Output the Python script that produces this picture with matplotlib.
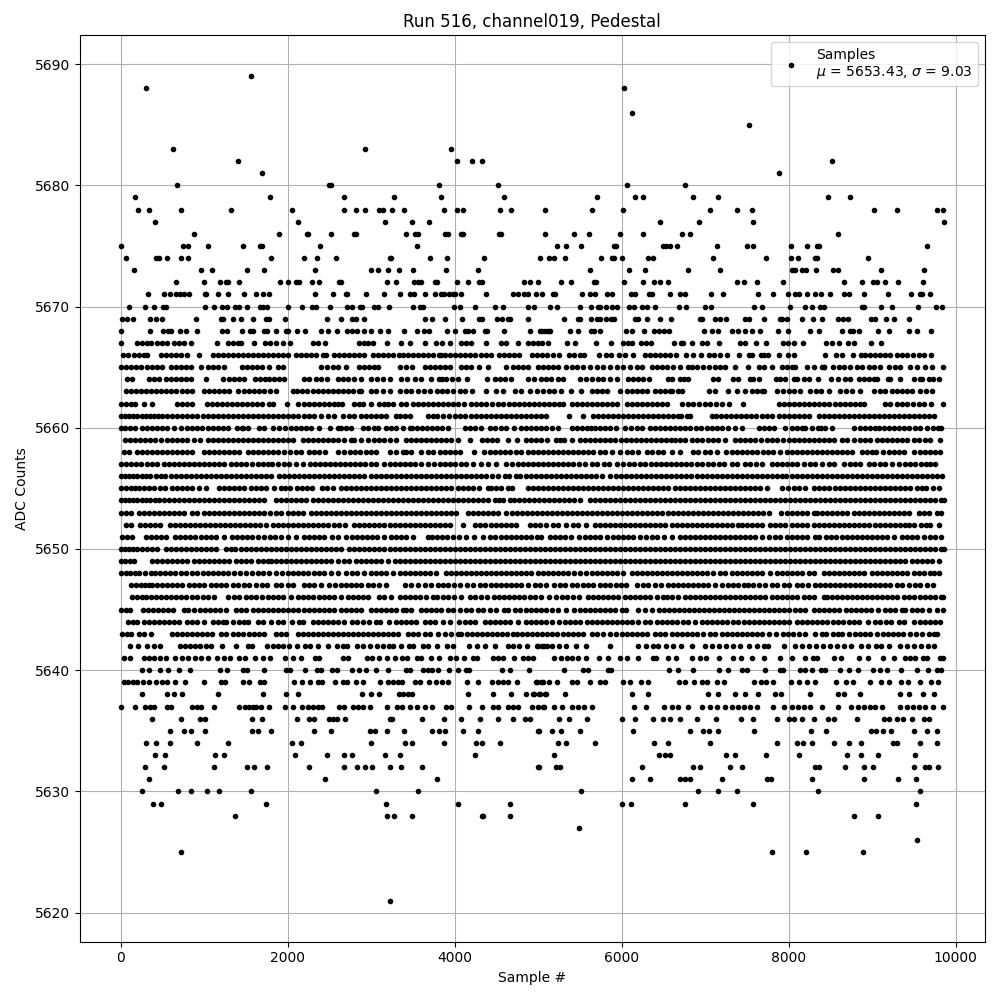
import matplotlib
matplotlib.use("Agg")
import matplotlib.pyplot as plt

# samples, one list per ADC level
s5689 = [1556]
s5688 = [308, 6032]
s5686 = [6128]
s5685 = [7532]
s5683 = [632, 2924, 3956]
s5682 = [1400, 4028, 4208, 4328, 8516]
s5681 = [1688, 7880]
s5680 = [680, 2492, 2516, 3812, 4520, 6068, 6764]
s5679 = [176, 1784, 2672, 3272, 3836, 4592, 5708, 6164, 6260, 6860, 7160, 8468, 8732]
s5678 = [212, 344, 728, 1316, 2048, 2672, 2816, 2924, 3092, 3140, 3248, 3392, 3872, 4028, 4100, 4544, 4676, 5084, 5648, 6020, 7064, 7388, 7568, 9020, 9296, 9776, 9848]
s5677 = [416, 2120, 3164, 3488, 3692, 6464, 6932, 7580, 9860]
s5676 = [884, 1892, 2228, 2240, 2516, 2792, 2816, 3416, 3524, 3560, 3884, 3920, 4076, 4100, 4532, 4556, 5084, 5432, 5612, 5984, 6260, 6728, 6824, 8588]
s5675 = [8, 752, 812, 1040, 1460, 1664, 1688, 2384, 3548, 5228, 5336, 5516, 5912, 5936, 6500, 6536, 6584, 6668, 7148, 7508, 7580, 8024, 8216, 8336, 8360, 9656]
s5674 = [68, 428, 464, 560, 728, 812, 1796, 2192, 2348, 2576, 3224, 3240, 3704, 3908, 4352, 5024, 5132, 5192, 5324, 5756, 5888, 5912, 6008, 6320, 6380, 7100, 7724, 8024, 8108, 8312, 8336, 8948]
s5673 = [164, 968, 1088, 1508, 1712, 2324, 2996, 3080, 3200, 3332, 3500, 3896, 4280, 5624, 6092, 6284, 6800, 7184, 8036, 8072, 8156, 8204, 8324, 8528, 8588, 9104, 9620]
s5672 = [668, 992, 1184, 1256, 1280, 1412, 1904, 2000, 2096, 2132, 2288, 2372, 2612, 2636, 3188, 3296, 3512, 3560, 3596, 3764, 3788, 4028, 4160, 4292, 4328, 4832, 4908, 5000, 5276, 5396, 5672, 5696, 6032, 6260, 6392, 6464, 6560, 7388, 7472, 7616, 7928, 8660, 8876, 9008, 9056, 9152, 9308, 9608]
s5671 = [332, 524, 596, 668, 716, 764, 824, 1004, 1016, 1160, 1280, 1472, 1616, 1700, 1772, 2324, 2540, 2696, 2708, 2936, 3152, 3344, 3464, 3512, 3644, 3764, 3836, 3872, 3932, 3980, 4004, 4076, 4376, 4700, 4760, 4832, 4880, 4976, 5048, 5180, 5204, 5528, 5624, 5684, 5828, 5888, 6116, 6164, 6332, 6368, 6584, 6704, 6764, 7076, 7220, 7628, 7808, 7988, 8072, 8120, 8216, 8312, 8384, 8492, 8660, 8720, 8900, 9188, 9464, 9572, 9596, 9692]
s5670 = [104, 296, 404, 512, 548, 1004, 1112, 1208, 1268, 1364, 1412, 1508, 1664, 1700, 1748, 2000, 2168, 2288, 2336, 2504, 2708, 2768, 2864, 2888, 3032, 3080, 3212, 3500, 3584, 3620, 3992, 4064, 4244, 4484, 4580, 4880, 4952, 5144, 5228, 5504, 5636, 5720, 5744, 5816, 5888, 5948, 6092, 6152, 6248, 6308, 6404, 6692, 6776, 7004, 7076, 7592, 7676, 8012, 8192, 8276, 8372, 8420, 8876, 8900, 9104, 9236, 9548, 9764, 9836]
s5669 = [20, 80, 152, 356, 428, 500, 908, 1196, 1220, 1340, 1436, 1580, 1736, 1772, 1964, 2468, 2636, 2768, 2816, 2912, 3644, 3728, 3884, 4088, 4292, 4328, 4508, 4568, 4640, 4664, 4880, 5312, 5480, 5504, 5636, 5708, 5744, 5816, 5876, 5912, 6164, 6200, 6308, 6464, 6596, 6944, 6968, 7124, 7184, 7256, 7484, 7532, 7700, 7892, 7916, 7976, 8156, 8288, 8396, 8588, 8648, 8708, 8984, 9032, 9164, 9260, 9440]
s5668 = [0, 356, 512, 572, 608, 716, 788, 920, 1208, 1268, 1448, 1544, 1580, 1712, 1748, 1856, 1976, 2000, 2108, 2204, 2396, 2480, 2588, 2708, 2768, 2828, 2912, 2996, 3104, 3200, 3392, 3548, 3632, 3692, 3908, 4004, 4124, 4160, 4220, 4364, 4388, 4592, 4904, 5048, 5120, 5024, 5084, 5144, 5384, 5480, 5636, 5672, 5744, 6056, 6128, 6272, 6392, 6452, 6512, 6572, 6992, 7088, 7160, 7328, 7400, 7484, 7568, 7652, 7868, 7988, 8252, 8360, 8636, 8732, 8768, 8840, 9068, 9200, 9440, 9536, 9704]
s5667 = [0, 200, 260, 320, 360, 440, 500, 560, 640, 700, 760, 840, 1148, 1280, 1340, 1400, 1440, 1592, 1728, 1790, 1860, 1940, 2028, 2300, 2360, 2448, 2860, 2910, 2960, 3020, 3188, 3360, 3460, 3640, 3772, 3852, 3948, 4072, 4132, 4192, 4380, 4552, 4612, 4764, 4884, 4940, 5000, 5052, 5120, 5352, 5444, 5692, 5872, 6012, 6072, 6120, 6232, 6292, 6352, 6632, 6712, 6732, 6844, 6964, 7024, 7164, 7424, 7484, 7612, 7732, 7932, 7996, 8064, 8172, 8444, 8524, 8604, 8712, 8784, 8992, 9112]
s5666 = [28, 92, 160, 220, 280, 320, 480, 540, 600, 660, 720, 800, 940, 1100, 1160, 1220, 1280, 1340, 1400, 1460, 1520, 1580, 1640, 1700, 1760, 1820, 1880, 1940, 2000, 2100, 2160, 2220, 2280, 2340, 2420, 2460, 2560, 2620, 2680, 2740, 2800, 2860, 2920, 3020, 3080, 3140, 3200, 3260, 3328, 3380, 3440, 3500, 3560, 3620, 3680, 3740, 3812, 3832, 3890, 3950, 4010, 4070, 4130, 4190, 4250, 4310, 4370, 4430, 4532, 4592, 4650, 4710, 4772, 4932, 4990, 5050, 5110, 5180, 5252, 5372, 5430, 5500, 5552, 5724, 5812, 5872, 5972, 6040, 6132, 6280, 6340, 6400, 6460, 6520, 6580, 6652, 6772, 6860, 6956, 7044, 7110, 7180, 7264, 7412, 7532, 7564, 7664, 7704, 7756, 7884, 7996, 8064, 8432, 8564, 8644, 8772, 8864, 8920, 8980, 9040, 9100, 9160, 9220, 9300, 9364, 9424, 9496, 9560, 9620, 9704]
s5665 = [0, 60, 120, 180, 240, 310, 370, 440, 500, 600, 660, 720, 780, 840, 960, 1040, 1100, 1160, 1240, 1450, 1510, 1570, 1630, 1690, 1780, 1880, 1940, 2400, 2470, 2540, 2600, 2700, 2850, 2910, 2970, 3030, 3080, 3340, 3420, 3490, 3640, 3700, 3760, 3820, 3880, 3940, 4080, 4140, 4200, 4290, 4400, 4620, 4700, 4760, 4820, 4880, 5000, 5060, 5120, 5180, 5240, 5330, 5400, 5470, 5540, 5620, 5700, 5780, 5860, 5940, 6020, 6100, 6180, 6250, 6360, 6420, 6480, 6540, 6610, 6700, 6790, 6840, 6900, 6980, 7050, 7120, 7180, 7240, 7360, 7510, 7640, 7700, 7800, 7920, 7980, 8040, 8080, 8220, 8300, 8400, 8430, 8420, 8530, 8600, 8660, 8730, 8820, 8880, 8960, 9020, 9090, 9200, 9270, 9340, 9450, 9540, 9640, 9720, 9850]
s5664 = [80, 140, 340, 400, 460, 540, 600, 660, 720, 780, 840, 1020, 1220, 1300, 1360, 1420, 1480, 1610, 1670, 1730, 1780, 1840, 1900, 1960, 2200, 2260, 2340, 2400, 2470, 2600, 2660, 2720, 2800, 2880, 3000, 3070, 3140, 3220, 3360, 3430, 3520, 3600, 3720, 3810, 3850, 3900, 3970, 4040, 4150, 4390, 4480, 4540, 4600, 4680, 4880, 4950, 5030, 5100, 5160, 5240, 5300, 5500, 5570, 5650, 5720, 5780, 5860, 5950, 6080, 6140, 6200, 6260, 6330, 6560, 6600, 6700, 6750, 6800, 7090, 7150, 7330, 7400, 7540, 7570, 7650, 7850, 7900, 7960, 8060, 8100, 8180, 8240, 8350, 8510, 8590, 8680, 8740, 8840, 8900, 8960, 9020, 9060, 9190, 9220, 9330, 9500, 9570, 9600, 9680, 9730, 9800]
s5663 = [60, 120, 180, 240, 300, 360, 420, 480, 540, 600, 660, 730, 800, 860, 1000, 1060, 1120, 1180, 1240, 1300, 1410, 1480, 1540, 1600, 1660, 1720, 1790, 1860, 2060, 2110, 2170, 2230, 2300, 2360, 2420, 2480, 2540, 2600, 2660, 2720, 2780, 2860, 2880, 3000, 3060, 3140, 3220, 3350, 3420, 3480, 3560, 3630, 3700, 3790, 3850, 3910, 3980, 4060, 4130, 4210, 4370, 4500, 4580, 4720, 4790, 4900, 4990, 5060, 5130, 5190, 5280, 5390, 5510, 5640, 5700, 5760, 5830, 5980, 6060, 6120, 6180, 6240, 6300, 6400, 6460, 6520, 6580, 6600, 6680, 6720, 7050, 7120, 7280, 7380, 7480, 7560, 7620, 7680, 7700, 7860, 7930, 8000, 8060, 8140, 8260, 8330, 8390, 8480, 8620, 8690, 8760, 8860, 9020, 9100, 9160, 9240, 9300, 9360, 9420, 9480, 9580, 9650, 9720]
s5662 = [0, 60, 120, 170, 280, 380, 670, 730, 790, 860, 1030, 1090, 1150, 1210, 1270, 1330, 1390, 1450, 1510, 1570, 1630, 1690, 1780, 1830, 1990, 2120, 2190, 2250, 2310, 2370, 2430, 2490, 2550, 2600, 2650, 2800, 2860, 2900, 3000, 3100, 3150, 3200, 3260, 3360, 3420, 3500, 3560, 3620, 3680, 3740, 3800, 3860, 3920, 3980, 4040, 4110, 4200, 4260, 4320, 4380, 4450, 4520, 4580, 4650, 4710, 4770, 4830, 4890, 4950, 5010, 5070, 5130, 5190, 5250, 5300, 5400, 5460, 5520, 5580, 5640, 5700, 5760, 5820, 5880, 5950, 6060, 6120, 6180, 6240, 6300, 6360, 6420, 6480, 6540, 6720, 6790, 6850, 6930, 7000, 7060, 7130, 7200, 7290, 7460, 7880, 7950, 8010, 8070, 8130, 8190, 8250, 8310, 8370, 8430, 8490, 8560, 8620, 8680, 8740, 8800, 8850, 8900, 9160, 9220, 9300, 9360, 9420, 9490, 9560, 9620, 9710, 9850]
s5661 = [0, 50, 100, 150, 200, 250, 300, 350, 400, 450, 500, 560, 620, 680, 740, 800, 860, 920, 980, 1040, 1100, 1160, 1220, 1280, 1340, 1400, 1460, 1520, 1580, 1640, 1700, 1760, 1820, 1880, 1940, 2000, 2060, 2120, 2200, 2260, 2320, 2400, 2480, 2560, 2660, 2730, 2800, 2880, 2940, 3000, 3060, 3120, 3180, 3300, 3350, 3410, 3460, 3680, 3740, 3790, 3860, 3930, 4000, 4060, 4120, 4200, 4260, 4320, 4380, 4430, 4490, 4550, 4610, 4670, 4730, 4790, 4850, 4910, 4970, 5030, 5100, 5370, 5540, 5660, 5720, 5780, 5840, 5900, 5960, 6020, 6080, 6140, 6200, 6260, 6320, 6380, 6440, 6500, 6560, 6620, 6680, 6710, 6780, 6820, 7080, 7130, 7190, 7250, 7310, 7370, 7430, 7490, 7550, 7610, 7680, 7740, 7800, 7880, 7940, 8000, 8060, 8120, 8180, 8240, 8360, 8420, 8480, 8540, 8600, 8660, 8720, 8780, 8840, 8900, 8960, 9020, 9080, 9140, 9200, 9260, 9320, 9380, 9440, 9500, 9560, 9620, 9680, 9740]
s5660 = [0, 50, 110, 170, 260, 320, 380, 440, 500, 560, 640, 720, 790, 850, 910, 970, 1040, 1100, 1160, 1230, 1280, 1390, 1460, 1520, 1450, 1660, 1720, 1830, 1900, 1970, 2040, 2100, 2160, 2220, 2280, 2380, 2510, 2600, 2640, 2700, 2760, 2900, 2960, 3030, 3080, 3180, 3240, 3300, 3380, 3460, 3490, 3550, 3610, 3670, 3730, 3790, 3850, 3920, 4120, 4180, 4240, 4310, 4420, 4480, 4560, 4610, 4710, 4790, 4860, 4920, 4980, 5040, 5100, 5170, 5240, 5400, 5460, 5520, 5580, 5630, 5680, 5740, 5800, 5860, 5930, 6040, 6110, 6190, 6250, 6340, 6400, 6460, 6520, 6580, 6640, 6700, 6760, 6820, 6890, 6950, 7020, 7080, 7140, 7200, 7270, 7360, 7440, 7640, 7700, 7760, 7820, 7960, 8040, 8100, 8160, 8200, 8280, 8350, 8390, 8440, 8520, 8780, 8850, 8910, 8980, 9030, 9080, 9140, 9200, 9260, 9320, 9380, 9440, 9520, 9570, 9660, 9730, 9790, 9830]
s5659 = [50, 110, 170, 230, 290, 350, 410, 480, 560, 620, 680, 740, 800, 880, 950, 1040, 1100, 1160, 1220, 1280, 1340, 1400, 1460, 1520, 1580, 1640, 1700, 1760, 1820, 1880, 1940, 2000, 2060, 2180, 2240, 2300, 2360, 2420, 2480, 2540, 2600, 2680, 2760, 2800, 2880, 2960, 3030, 3090, 3150, 3220, 3300, 3420, 3480, 3540, 3600, 3660, 3720, 3780, 3840, 3900, 3960, 4040, 4190, 4330, 4390, 4450, 4510, 4640, 4750, 4860, 4920, 4980, 5040, 5110, 5210, 5260, 5310, 5410, 5500, 5560, 5620, 5680, 5740, 5800, 5860, 5920, 5990, 6050, 6110, 6170, 6230, 6290, 6350, 6410, 6470, 6530, 6590, 6640, 6700, 6760, 6840, 6900, 6960, 7040, 7100, 7160, 7240, 7360, 7420, 7480, 7540, 7600, 7670, 7740, 7800, 7860, 7930, 8000, 8060, 8120, 8180, 8240, 8300, 8360, 8430, 8480, 8540, 8640, 8700, 8780, 8860, 8920, 8980, 9060, 9120, 9180, 9240, 9300, 9360, 9420, 9500, 9560, 9640, 9700, 9810]
s5658 = [40, 100, 200, 260, 310, 370, 430, 490, 550, 610, 680, 740, 800, 860, 1000, 1060, 1120, 1180, 1240, 1300, 1360, 1420, 1520, 1580, 1640, 1700, 1760, 1820, 1880, 1960, 2030, 2100, 2160, 2260, 2320, 2380, 2450, 2600, 2680, 2750, 2810, 2870, 2940, 3000, 3060, 3220, 3300, 3380, 3420, 3480, 3600, 3680, 3740, 3820, 3880, 3940, 4000, 4060, 4230, 4350, 4420, 4480, 4540, 4600, 4660, 4730, 4800, 4880, 4940, 5000, 5060, 5120, 5180, 5240, 5300, 5360, 5420, 5480, 5540, 5600, 5660, 5740, 5800, 5880, 5980, 6060, 6130, 6200, 6300, 6370, 6440, 6500, 6600, 6700, 6860, 6920, 7000, 7060, 7140, 7250, 7320, 7380, 7440, 7500, 7560, 7620, 7690, 7750, 7810, 7900, 7980, 8040, 8100, 8160, 8220, 8280, 8340, 8400, 8460, 8520, 8580, 8640, 8700, 8760, 8880, 8940, 9000, 9050, 9130, 9200, 9260, 9320, 9380, 9500, 9580, 9640, 9700, 9760, 9810]
s5657 = [0, 60, 120, 180, 240, 320, 380, 440, 520, 580, 640, 700, 760, 820, 880, 940, 1000, 1060, 1120, 1180, 1240, 1320, 1380, 1440, 1500, 1570, 1640, 1700, 1760, 1810, 1890, 1960, 2020, 2100, 2180, 2270, 2330, 2390, 2450, 2510, 2570, 2630, 2690, 2750, 2810, 2870, 2930, 3000, 3060, 3160, 3220, 3280, 3340, 3400, 3460, 3520, 3600, 3680, 3750, 3820, 3880, 3940, 4010, 4080, 4140, 4220, 4320, 4400, 4500, 4620, 4690, 4760, 4820, 4880, 4940, 5000, 5060, 5120, 5180, 5240, 5300, 5360, 5420, 5490, 5560, 5640, 5700, 5790, 5850, 5950, 6020, 6090, 6150, 6220, 6280, 6350, 6410, 6470, 6530, 6590, 6650, 6710, 6770, 6830, 6900, 6960, 7040, 7100, 7170, 7230, 7320, 7380, 7480, 7540, 7610, 7680, 7800, 7860, 7920, 7980, 8040, 8100, 8180, 8260, 8320, 8400, 8480, 8540, 8660, 8730, 8800, 8860, 8960, 9020, 9090, 9150, 9240, 9320, 9400, 9460, 9520, 9590, 9650, 9700, 9760]
s5656 = [0, 50, 100, 150, 200, 250, 300, 350, 420, 480, 530, 600, 660, 720, 780, 840, 900, 960, 1020, 1080, 1140, 1200, 1260, 1320, 1380, 1440, 1500, 1560, 1620, 1680, 1740, 1800, 1900, 1960, 2020, 2080, 2140, 2200, 2260, 2320, 2380, 2440, 2500, 2560, 2620, 2680, 2740, 2800, 2860, 2920, 3000, 3060, 3120, 3180, 3240, 3300, 3360, 3420, 3480, 3540, 3600, 3660, 3720, 3780, 3840, 3900, 3960, 4020, 4080, 4140, 4200, 4260, 4320, 4380, 4450, 4520, 4600, 4650, 4730, 4780, 4850, 4910, 4970, 5030, 5090, 5150, 5210, 5270, 5330, 5390, 5450, 5510, 5570, 5630, 5690, 5760, 5860, 5930, 5990, 6050, 6110, 6170, 6230, 6290, 6350, 6410, 6470, 6530, 6590, 6650, 6710, 6770, 6830, 6900, 6960, 7020, 7080, 7140, 7200, 7260, 7320, 7380, 7440, 7500, 7560, 7620, 7680, 7740, 7800, 7860, 7920, 7970, 8040, 8100, 8160, 8220, 8280, 8340, 8400, 8460, 8520, 8580, 8640, 8700, 8760, 8820, 8880, 8940, 9000, 9060, 9120, 9180, 9240, 9300, 9360, 9420, 9480, 9540, 9600, 9660, 9720, 9780, 9840]
s5655 = [0, 60, 120, 170, 220, 280, 340, 400, 470, 530, 620, 680, 740, 800, 860, 940, 1020, 1180, 1240, 1300, 1360, 1420, 1480, 1560, 1620, 1680, 1740, 1840, 1920, 1970, 2030, 2110, 2170, 2230, 2290, 2410, 2470, 2540, 2640, 2700, 2760, 2820, 2880, 2940, 3000, 3060, 3120, 3180, 3240, 3300, 3360, 3420, 3480, 3540, 3600, 3660, 3720, 3780, 3840, 3900, 3960, 4040, 4100, 4160, 4220, 4290, 4400, 4440, 4500, 4560, 4640, 4690, 4880, 4940, 5000, 5060, 5120, 5180, 5240, 5300, 5360, 5420, 5480, 5540, 5600, 5660, 5720, 5780, 5840, 5900, 5960, 6020, 6080, 6140, 6200, 6260, 6320, 6380, 6440, 6500, 6560, 6640, 6700, 6760, 6820, 6880, 6940, 7000, 7060, 7120, 7180, 7240, 7300, 7360, 7420, 7480, 7540, 7600, 7660, 7740, 7920, 7990, 8060, 8120, 8200, 8300, 8360, 8420, 8480, 8560, 8620, 8680, 8740, 8800, 8860, 8920, 8980, 9040, 9100, 9160, 9220, 9280, 9340, 9400, 9450, 9540, 9600, 9650, 9730, 9800]
s5654 = [0, 50, 100, 150, 200, 250, 300, 350, 410, 460, 520, 580, 640, 700, 760, 820, 880, 940, 1000, 1060, 1120, 1180, 1240, 1300, 1360, 1420, 1480, 1540, 1600, 1660, 1720, 1860, 1920, 1980, 2040, 2100, 2160, 2220, 2300, 2360, 2420, 2480, 2540, 2600, 2660, 2720, 2780, 2840, 2900, 2960, 3020, 3080, 3140, 3200, 3260, 3320, 3380, 3440, 3500, 3560, 3620, 3680, 3740, 3800, 3860, 3920, 3980, 4040, 4100, 4160, 4220, 4280, 4340, 4400, 4480, 4530, 4580, 4660, 4710, 4770, 4830, 4890, 4950, 5010, 5070, 5130, 5190, 5250, 5310, 5370, 5430, 5500, 5620, 5680, 5740, 5800, 5860, 5920, 5980, 6040, 6100, 6160, 6220, 6280, 6340, 6400, 6460, 6520, 6580, 6640, 6700, 6760, 6820, 6880, 6940, 7000, 7060, 7120, 7180, 7240, 7300, 7360, 7420, 7480, 7540, 7600, 7660, 7720, 7780, 7840, 7900, 7960, 8020, 8080, 8140, 8200, 8260, 8320, 8380, 8440, 8500, 8560, 8620, 8680, 8740, 8800, 8860, 8920, 8980, 9040, 9100, 9160, 9220, 9280, 9340, 9400, 9460, 9520, 9580, 9640, 9700, 9760, 9820, 9860]
s5653 = [0, 60, 120, 220, 280, 340, 400, 460, 520, 580, 640, 700, 760, 860, 920, 1000, 1060, 1120, 1180, 1240, 1300, 1360, 1420, 1480, 1540, 1600, 1660, 1720, 1790, 1860, 1920, 2000, 2060, 2120, 2180, 2280, 2340, 2400, 2460, 2520, 2580, 2640, 2700, 2760, 2820, 2880, 2940, 3000, 3060, 3120, 3180, 3240, 3300, 3360, 3420, 3480, 3540, 3600, 3660, 3720, 3780, 3840, 3900, 3960, 4020, 4160, 4220, 4280, 4340, 4400, 4460, 4520, 4620, 4690, 4750, 4810, 4870, 4930, 4990, 5050, 5110, 5170, 5230, 5290, 5350, 5410, 5470, 5530, 5590, 5650, 5710, 5770, 5830, 5890, 5950, 6010, 6070, 6130, 6190, 6250, 6310, 6370, 6430, 6490, 6550, 6610, 6670, 6730, 6790, 6850, 6910, 6970, 7030, 7090, 7150, 7210, 7270, 7330, 7390, 7450, 7510, 7570, 7630, 7690, 7770, 7910, 7980, 8040, 8100, 8160, 8220, 8300, 8340, 8400, 8460, 8520, 8580, 8640, 8700, 8780, 8840, 8900, 8960, 9020, 9080, 9140, 9200, 9260, 9320, 9380, 9440, 9560, 9620, 9680, 9780, 9830]
s5652 = [60, 120, 230, 290, 350, 410, 470, 590, 650, 710, 770, 830, 890, 950, 1010, 1070, 1130, 1190, 1250, 1310, 1370, 1430, 1490, 1550, 1610, 1670, 1740, 1820, 1880, 1940, 2000, 2060, 2120, 2180, 2240, 2300, 2360, 2420, 2480, 2560, 2620, 2690, 2800, 2860, 2920, 2980, 3040, 3100, 3160, 3220, 3280, 3340, 3400, 3460, 3520, 3580, 3640, 3700, 3760, 3820, 3880, 3940, 4100, 4240, 4300, 4360, 4430, 4490, 4550, 4610, 4670, 4730, 4900, 4960, 5020, 5090, 5180, 5240, 5330, 5420, 5480, 5570, 5680, 5740, 5800, 5860, 5920, 5980, 6040, 6100, 6160, 6220, 6280, 6340, 6400, 6460, 6520, 6600, 6660, 6720, 6780, 6840, 6900, 6960, 7020, 7080, 7140, 7200, 7260, 7320, 7400, 7440, 7500, 7560, 7620, 7680, 7780, 7840, 7900, 7960, 8040, 8100, 8160, 8220, 8300, 8360, 8420, 8480, 8540, 8600, 8660, 8720, 8780, 8840, 8900, 8960, 9030, 9090, 9150, 9210, 9270, 9330, 9390, 9440, 9500, 9590, 9650, 9700, 9800]
s5651 = [10, 70, 140, 300, 360, 420, 480, 540, 650, 710, 770, 830, 890, 960, 1020, 1080, 1140, 1240, 1330, 1390, 1450, 1510, 1570, 1640, 1720, 1790, 1850, 1920, 2000, 2100, 2190, 2250, 2310, 2370, 2430, 2530, 2600, 2700, 2770, 2830, 2890, 2950, 3010, 3070, 3160, 3240, 3300, 3360, 3420, 3500, 3680, 3730, 3790, 3850, 3910, 3980, 4050, 4140, 4230, 4340, 4420, 4480, 4560, 4620, 4680, 4740, 4800, 4860, 4920, 4990, 5040, 5140, 5200, 5260, 5320, 5390, 5490, 5560, 5620, 5680, 5740, 5820, 5900, 5960, 6020, 6080, 6140, 6220, 6290, 6360, 6420, 6510, 6600, 6700, 6760, 6820, 6880, 6940, 7000, 7060, 7120, 7180, 7240, 7300, 7360, 7420, 7480, 7540, 7600, 7680, 7760, 7840, 7900, 7980, 8040, 8100, 8160, 8220, 8320, 8370, 8450, 8510, 8570, 8640, 8700, 8760, 8820, 8880, 8940, 9000, 9060, 9120, 9180, 9260, 9360, 9420, 9480, 9540, 9620, 9700, 9760, 9820]
s5650 = [0, 50, 100, 150, 200, 260, 320, 380, 440, 540, 600, 660, 720, 780, 840, 900, 960, 1020, 1080, 1140, 1260, 1320, 1370, 1440, 1500, 1560, 1620, 1680, 1740, 1800, 1860, 1920, 1980, 2040, 2100, 2160, 2220, 2280, 2340, 2400, 2460, 2520, 2580, 2640, 2730, 2800, 2860, 2920, 2980, 3040, 3100, 3160, 3220, 3280, 3340, 3400, 3460, 3520, 3580, 3640, 3700, 3760, 3820, 3880, 3940, 4000, 4060, 4120, 4180, 4240, 4300, 4360, 4420, 4480, 4540, 4600, 4660, 4720, 4780, 4840, 4900, 4960, 5020, 5080, 5140, 5200, 5260, 5320, 5380, 5440, 5500, 5560, 5620, 5680, 5740, 5800, 5860, 5920, 5980, 6040, 6100, 6160, 6220, 6280, 6340, 6400, 6460, 6520, 6580, 6640, 6700, 6760, 6820, 6880, 6940, 7000, 7060, 7120, 7180, 7240, 7300, 7360, 7420, 7480, 7540, 7600, 7660, 7720, 7780, 7840, 7900, 7960, 8020, 8080, 8140, 8200, 8260, 8320, 8380, 8440, 8500, 8560, 8620, 8680, 8740, 8800, 8860, 8920, 8980, 9040, 9100, 9160, 9220, 9280, 9340, 9400, 9460, 9520, 9580, 9640, 9700, 9760, 9820, 9860]
s5649 = [0, 50, 110, 160, 380, 440, 500, 560, 620, 680, 740, 800, 880, 940, 1000, 1060, 1120, 1180, 1240, 1300, 1380, 1440, 1500, 1560, 1640, 1700, 1760, 1800, 1860, 1920, 1980, 2040, 2100, 2160, 2220, 2280, 2340, 2400, 2460, 2520, 2600, 2680, 2740, 2820, 2880, 2940, 3000, 3060, 3120, 3200, 3280, 3340, 3400, 3460, 3520, 3580, 3640, 3700, 3760, 3820, 3880, 3940, 4000, 4060, 4120, 4180, 4240, 4300, 4360, 4420, 4480, 4540, 4600, 4660, 4720, 4780, 4840, 4900, 4960, 5020, 5080, 5140, 5200, 5260, 5320, 5380, 5440, 5500, 5560, 5620, 5680, 5740, 5800, 5860, 5920, 5980, 6040, 6100, 6160, 6220, 6280, 6340, 6400, 6460, 6520, 6580, 6640, 6700, 6760, 6820, 6880, 6940, 7000, 7060, 7120, 7180, 7240, 7300, 7360, 7420, 7480, 7540, 7600, 7660, 7720, 7780, 7840, 7900, 7960, 8020, 8080, 8140, 8200, 8260, 8320, 8380, 8440, 8500, 8560, 8620, 8680, 8740, 8800, 8860, 8920, 8980, 9040, 9100, 9160, 9220, 9280, 9340, 9400, 9480, 9540, 9600, 9660, 9720, 9800]
s5648 = [0, 60, 110, 170, 220, 290, 360, 410, 470, 530, 590, 650, 720, 780, 860, 920, 980, 1040, 1100, 1160, 1220, 1290, 1360, 1430, 1500, 1570, 1640, 1700, 1780, 1860, 1930, 2000, 2060, 2120, 2180, 2240, 2320, 2380, 2440, 2520, 2600, 2700, 2770, 2830, 2920, 3000, 3060, 3120, 3180, 3260, 3340, 3400, 3460, 3520, 3580, 3640, 3700, 3780, 3900, 3960, 4020, 4080, 4140, 4200, 4260, 4320, 4380, 4440, 4500, 4560, 4620, 4680, 4740, 4800, 4860, 4920, 5000, 5060, 5120, 5180, 5240, 5300, 5360, 5430, 5500, 5570, 5640, 5700, 5760, 5820, 5880, 5950, 6020, 6120, 6180, 6240, 6300, 6360, 6420, 6480, 6540, 6600, 6660, 6720, 6780, 6840, 6900, 6960, 7020, 7090, 7180, 7240, 7320, 7380, 7440, 7500, 7560, 7620, 7680, 7780, 7860, 7920, 7980, 8040, 8100, 8160, 8240, 8310, 8420, 8480, 8540, 8600, 8660, 8720, 8780, 8840, 8900, 9000, 9060, 9120, 9180, 9240, 9300, 9360, 9420, 9500, 9560, 9620, 9700, 9740, 9800]
s5647 = [120, 180, 240, 290, 340, 380, 440, 500, 560, 620, 680, 740, 820, 880, 940, 1000, 1080, 1140, 1200, 1260, 1340, 1400, 1480, 1540, 1620, 1690, 1750, 1860, 1920, 2000, 2060, 2200, 2260, 2320, 2400, 2500, 2570, 2640, 2700, 2760, 2820, 2880, 2960, 3020, 3100, 3180, 3400, 3480, 3560, 3640, 3720, 3800, 3860, 3920, 3990, 4060, 4150, 4220, 4300, 4360, 4430, 4500, 4560, 4620, 4680, 4740, 4800, 4880, 4960, 5020, 5100, 5190, 5260, 5320, 5400, 5470, 5540, 5600, 5660, 5740, 5800, 5860, 5930, 5990, 6050, 6180, 6260, 6320, 6400, 6470, 6560, 6620, 6680, 6740, 6800, 6860, 6920, 6980, 7040, 7120, 7200, 7280, 7340, 7400, 7470, 7520, 7580, 7640, 7720, 7800, 7860, 7940, 8000, 8100, 8160, 8230, 8320, 8380, 8440, 8500, 8560, 8620, 8680, 8740, 8800, 8860, 8920, 8980, 9040, 9100, 9160, 9220, 9300, 9360, 9440, 9520, 9580, 9660, 9730]
s5646 = [130, 190, 250, 300, 360, 420, 480, 540, 600, 660, 720, 780, 860, 920, 980, 1040, 1120, 1280, 1360, 1420, 1500, 1560, 1620, 1690, 1760, 1830, 1890, 1950, 2040, 2120, 2180, 2240, 2300, 2380, 2440, 2500, 2560, 2640, 2720, 2780, 2840, 2900, 2960, 3100, 3160, 3240, 3340, 3400, 3460, 3520, 3590, 3660, 3740, 3790, 3860, 3920, 3990, 4080, 4180, 4240, 4310, 4390, 4470, 4530, 4590, 4650, 4710, 4770, 4830, 4900, 4960, 5040, 5130, 5210, 5290, 5350, 5420, 5490, 5600, 5660, 5720, 5780, 5840, 5900, 5960, 6040, 6100, 6160, 6220, 6280, 6340, 6420, 6500, 6540, 6600, 6680, 6760, 6820, 6880, 6940, 7000, 7060, 7120, 7180, 7240, 7300, 7360, 7420, 7480, 7540, 7600, 7660, 7720, 7800, 7860, 7920, 7980, 8040, 8100, 8180, 8240, 8300, 8420, 8460, 8520, 8580, 8640, 8700, 8760, 8820, 8880, 8940, 9000, 9060, 9120, 9180, 9240, 9300, 9380, 9440, 9500, 9580, 9640, 9700, 9760, 9830, 9850]
s5645 = [0, 60, 110, 270, 330, 390, 450, 510, 570, 630, 760, 810, 880, 950, 1010, 1070, 1130, 1190, 1260, 1380, 1440, 1500, 1580, 1640, 1700, 1760, 1820, 1880, 1940, 2000, 2060, 2120, 2200, 2260, 2320, 2380, 2440, 2500, 2560, 2640, 2700, 2760, 2820, 2880, 3000, 3060, 3120, 3180, 3240, 3300, 3380, 3420, 3480, 3600, 3660, 3720, 3780, 3840, 3920, 3980, 4060, 4140, 4200, 4280, 4340, 4420, 4490, 4590, 4640, 4720, 4780, 4860, 4920, 4980, 5040, 5100, 5170, 5240, 5340, 5430, 5500, 5560, 5620, 5680, 5740, 5800, 5860, 5920, 6000, 6050, 6200, 6280, 6370, 6450, 6510, 6570, 6630, 6690, 6750, 6810, 6870, 6930, 6990, 7050, 7110, 7170, 7230, 7290, 7350, 7410, 7470, 7530, 7590, 7650, 7710, 7770, 7830, 7890, 7950, 8000, 8080, 8140, 8200, 8300, 8360, 8420, 8480, 8540, 8600, 8690, 8750, 8810, 8870, 8930, 8990, 9070, 9150, 9220, 9280, 9360, 9400, 9480, 9540, 9600, 9680, 9780, 9850]
s5644 = [90, 150, 200, 280, 340, 400, 460, 520, 580, 640, 700, 800, 860, 920, 1000, 1100, 1160, 1220, 1260, 1340, 1420, 1480, 1530, 1640, 1710, 1800, 1880, 1950, 2050, 2130, 2180, 2300, 2360, 2420, 2480, 2540, 2600, 2680, 2770, 2830, 2900, 2980, 3060, 3110, 3210, 3300, 3360, 3420, 3480, 3540, 3640, 3700, 3760, 3860, 3950, 4050, 4130, 4190, 4250, 4360, 4420, 4480, 4540, 4600, 4660, 4760, 4850, 4910, 4970, 5040, 5100, 5170, 5250, 5320, 5380, 5440, 5500, 5590, 5650, 5710, 5770, 5830, 5890, 5950, 6010, 6070, 6130, 6200, 6280, 6340, 6420, 6480, 6540, 6600, 6660, 6740, 6800, 6880, 6960, 7020, 7080, 7140, 7200, 7260, 7330, 7400, 7470, 7530, 7590, 7650, 7710, 7770, 7830, 7890, 7950, 8000, 8100, 8160, 8220, 8280, 8340, 8400, 8460, 8530, 8590, 8650, 8720, 8780, 8840, 8950, 9040, 9100, 9170, 9230, 9320, 9380, 9500, 9580, 9640, 9700, 9760, 9810]
s5643 = [20, 70, 120, 220, 280, 360, 610, 670, 730, 790, 850, 910, 970, 1030, 1090, 1200, 1260, 1340, 1400, 1460, 1540, 1600, 1660, 1720, 1860, 1920, 1980, 2120, 2180, 2240, 2300, 2360, 2420, 2480, 2540, 2600, 2660, 2720, 2780, 2840, 2900, 2960, 3020, 3080, 3140, 3200, 3260, 3320, 3440, 3500, 3560, 3640, 3710, 3800, 3880, 3960, 4040, 4080, 4150, 4210, 4270, 4330, 4390, 4450, 4510, 4570, 4630, 4700, 4750, 4810, 4870, 4930, 4990, 5050, 5110, 5170, 5230, 5300, 5360, 5420, 5480, 5540, 5640, 5710, 5780, 5860, 5930, 6000, 6060, 6120, 6180, 6240, 6300, 6400, 6460, 6520, 6600, 6660, 6720, 6780, 6840, 6900, 6980, 7060, 7120, 7200, 7260, 7320, 7380, 7440, 7500, 7560, 7620, 7680, 7760, 7850, 7930, 7990, 8050, 8130, 8200, 8320, 8400, 8450, 8530, 8590, 8640, 8720, 8800, 8860, 8920, 8980, 9060, 9130, 9190, 9250, 9310, 9370, 9460, 9530, 9600, 9680, 9740, 9780]
s5642 = [116, 212, 320, 404, 476, 716, 776, 836, 896, 956, 1016, 1076, 1208, 1376, 1520, 1568, 1748, 1820, 1880, 1940, 2012, 2108, 2204, 2268, 2360, 2480, 2588, 2660, 2708, 2828, 2900, 2984, 3068, 3140, 3212, 3260, 3356, 3452, 3500, 3620, 3680, 3788, 3908, 3980, 4172, 4268, 4364, 4484, 4640, 4700, 4772, 4868, 5000, 5072, 4988, 5048, 5108, 5168, 5252, 5336, 5456, 5576, 5864, 6200, 6296, 6380, 6440, 6536, 6620, 6716, 6848, 7004, 7088, 7172, 7256, 7340, 7424, 7532, 7616, 7700, 7748, 7940, 8072, 8156, 8240, 8324, 8408, 8492, 8576, 8660, 8744, 8864, 8948, 9044, 9104, 9200, 9332, 9416, 9500, 9584, 9668, 9740]
s5641 = [44, 116, 284, 344, 404, 476, 548, 656, 740, 812, 896, 968, 1040, 1148, 1232, 1304, 1412, 1484, 1604, 1700, 1784, 1964, 2060, 2156, 2324, 2372, 2660, 2720, 2948, 3008, 3092, 3188, 3284, 3368, 3428, 3548, 3596, 3716, 3812, 3944, 4016, 4112, 4220, 4268, 4460, 4520, 4580, 4712, 4820, 4880, 4940, 5192, 5276, 5348, 5408, 5480, 5576, 5732, 5840, 5984, 6068, 6196, 6380, 6416, 6560, 6656, 6848, 6944, 7016, 7172, 7340, 7436, 7568, 7700, 7892, 8036, 8192, 8288, 8336, 8540, 8624, 8840, 8948, 9128, 9260, 9392, 9452, 9512, 9608, 9656, 9812, 9848]
s5640 = [260, 344, 476, 572, 704, 836, 1184, 1268, 1460, 1508, 1712, 1976, 2024, 2204, 2348, 2396, 2528, 2588, 2768, 2852, 2936, 3056, 3200, 3416, 3464, 3620, 3680, 3728, 3800, 3932, 4040, 4136, 4172, 4568, 4664, 4892, 5312, 5540, 5600, 5840, 5876, 6572, 6680, 6860, 7172, 7280, 7448, 7508, 7712, 7892, 7928, 8132, 8192, 8276, 8384, 8432, 8612, 8720, 8828, 9008, 9092, 9176, 9344, 9536, 9668, 9776, 9824]
s5639 = [44, 92, 152, 200, 272, 344, 428, 500, 560, 656, 776, 992, 1196, 1244, 1460, 1532, 1664, 1712, 2072, 2168, 2264, 2360, 2408, 2564, 2660, 2708, 2816, 2900, 3104, 3200, 3260, 3320, 3368, 3524, 3584, 3692, 3780, 3848, 3920, 4148, 4280, 4448, 4520, 4580, 4640, 4748, 4988, 5060, 4976, 5036, 5132, 5228, 5408, 5468, 5624, 5744, 5804, 6020, 6104, 6236, 6320, 6692, 6764, 6872, 6968, 7028, 7148, 7232, 7592, 7664, 7724, 7808, 8024, 8120, 8216, 8312, 8564, 8684, 8768, 8972, 9104, 9200, 9344, 9428, 9572, 9704, 9788]
s5638 = [260, 560, 644, 740, 1160, 1700, 1984, 2120, 2888, 2996, 3092, 3332, 3380, 3440, 3488, 4160, 4460, 4676, 4856, 4952, 5024, 5096, 4940, 5012, 5084, 5324, 6128, 6320, 7040, 7160, 7364, 7484, 7628, 7832, 7904, 8252, 8588, 8660, 8852, 9332, 9440, 9608, 9740]
s5637 = [8, 176, 296, 356, 404, 560, 608, 860, 920, 968, 1112, 1412, 1484, 1532, 1580, 1616, 1684, 1772, 1964, 2060, 2168, 2240, 2300, 2360, 2408, 2612, 2672, 2780, 2840, 2900, 2984, 3188, 3308, 3368, 3464, 3548, 3644, 3728, 3896, 3956, 4172, 4328, 4460, 4520, 4640, 4700, 4760, 4928, 5000, 5060, 5072, 5196, 5292, 5400, 5472, 5544, 5640, 6152, 6296, 6512, 6608, 6680, 6800, 6968, 7064, 7148, 7244, 7328, 7400, 7472, 7544, 7616, 7808, 7940, 8036, 8108, 8180, 8252, 8396, 8588, 8744, 8828, 8900, 8972, 9032, 9116, 9332, 9416, 9488, 9560, 9632, 9728, 9848]
s5636 = [380, 728, 956, 1004, 1568, 1688, 2108, 2252, 2312, 2492, 2540, 2588, 2684, 3224, 3248, 3608, 3872, 4076, 4304, 4520, 4700, 4844, 4904, 5252, 5372, 5588, 6008, 6164, 6380, 6500, 6584, 6696, 6908, 7136, 7436, 7580, 7856, 8000, 8060, 8156, 8300, 8468, 8540, 8816, 9140, 9200, 9296, 9368, 9476, 9620, 9680]
s5635 = [596, 764, 848, 1004, 1568, 1640, 1796, 2312, 2516, 2984, 3044, 3188, 3392, 3728, 3812, 3884, 4100, 4280, 5012, 5000, 5168, 5276, 5504, 6140, 6824, 6980, 7052, 7160, 7592, 8264, 8444, 8984, 9044, 9128, 9224, 9500, 9656, 9776]
s5634 = [308, 428, 596, 920, 1280, 2048, 2156, 2996, 3404, 3488, 3872, 4256, 4328, 4544, 5240, 5336, 5684, 6392, 6560, 7064, 7856, 8096, 8168, 8276, 8540, 8720, 8864, 9248, 9296, 9572, 9776]
s5633 = [416, 536, 1124, 1232, 2084, 2468, 2672, 2768, 3164, 3344, 4244, 5192, 6452, 6524, 6584, 7256, 7364, 7724, 8120, 8696, 8864, 9068, 9512]
s5632 = [296, 524, 1112, 1508, 1592, 1748, 2252, 2672, 2828, 2924, 3008, 3224, 3356, 3608, 5012, 5000, 5216, 5264, 6248, 6860, 6944, 7304, 7448, 8312, 8360, 8672, 8900, 9008, 9500, 9632, 9680, 9788]
s5631 = [344, 2444, 3788, 6128, 6344, 6704, 6764, 6824, 7208, 7736, 7784, 8276, 8900, 9308, 9524]
s5630 = [260, 692, 848, 1028, 1172, 1556, 3056, 3560, 5516, 6920, 7160, 7388, 8348, 9572]
s5629 = [392, 488, 1736, 3176, 4040, 4664, 6008, 6116, 6764, 7580, 9524]
s5628 = [1364, 3188, 3272, 3488, 4328, 4340, 4664, 8780, 9068]
s5627 = [5492]
s5626 = [9536]
s5625 = [728, 7796, 8204, 8888]
s5621 = [3224]

levels = [5689, 5688, 5686, 5685, 5683, 5682, 5681, 5680, 5679, 5678, 5677, 5676, 5675, 5674,
          5673, 5672, 5671, 5670, 5669, 5668, 5667, 5666, 5665, 5664, 5663, 5662, 5661, 5660, 5659,
          5658, 5657, 5656, 5655, 5654, 5653, 5652, 5651, 5650, 5649, 5648, 5647, 5646, 5645, 5644,
          5643, 5642, 5641, 5640, 5639, 5638, 5637, 5636, 5635, 5634, 5633, 5632, 5631, 5630, 5629,
          5628, 5627, 5626, 5625, 5621]
samples = [s5689, s5688, s5686, s5685, s5683, s5682, s5681, s5680, s5679, s5678, s5677, s5676, s5675, s5674,
           s5673, s5672, s5671, s5670, s5669, s5668, s5667, s5666, s5665, s5664, s5663, s5662, s5661, s5660, s5659,
           s5658, s5657, s5656, s5655, s5654, s5653, s5652, s5651, s5650, s5649, s5648, s5647, s5646, s5645, s5644,
           s5643, s5642, s5641, s5640, s5639, s5638, s5637, s5636, s5635, s5634, s5633, s5632, s5631, s5630, s5629,
           s5628, s5627, s5626, s5625, s5621]

x = []
y = []
for level, row in zip(levels, samples):
    for sample in row:
        x.append(sample)
        y.append(level)

fig = plt.figure(figsize=(10, 10))
plt.plot(x, y, "k.", label="Samples\n$\\mu$ = 5653.43, $\\sigma$ = 9.03")
plt.title("Run 516, channel019, Pedestal")
plt.xlabel("Sample #")
plt.ylabel("ADC Counts")
plt.legend(loc="upper right")
plt.grid(True)
plt.tight_layout()
plt.subplots_adjust(top=0.965)
plt.savefig("out.png")
